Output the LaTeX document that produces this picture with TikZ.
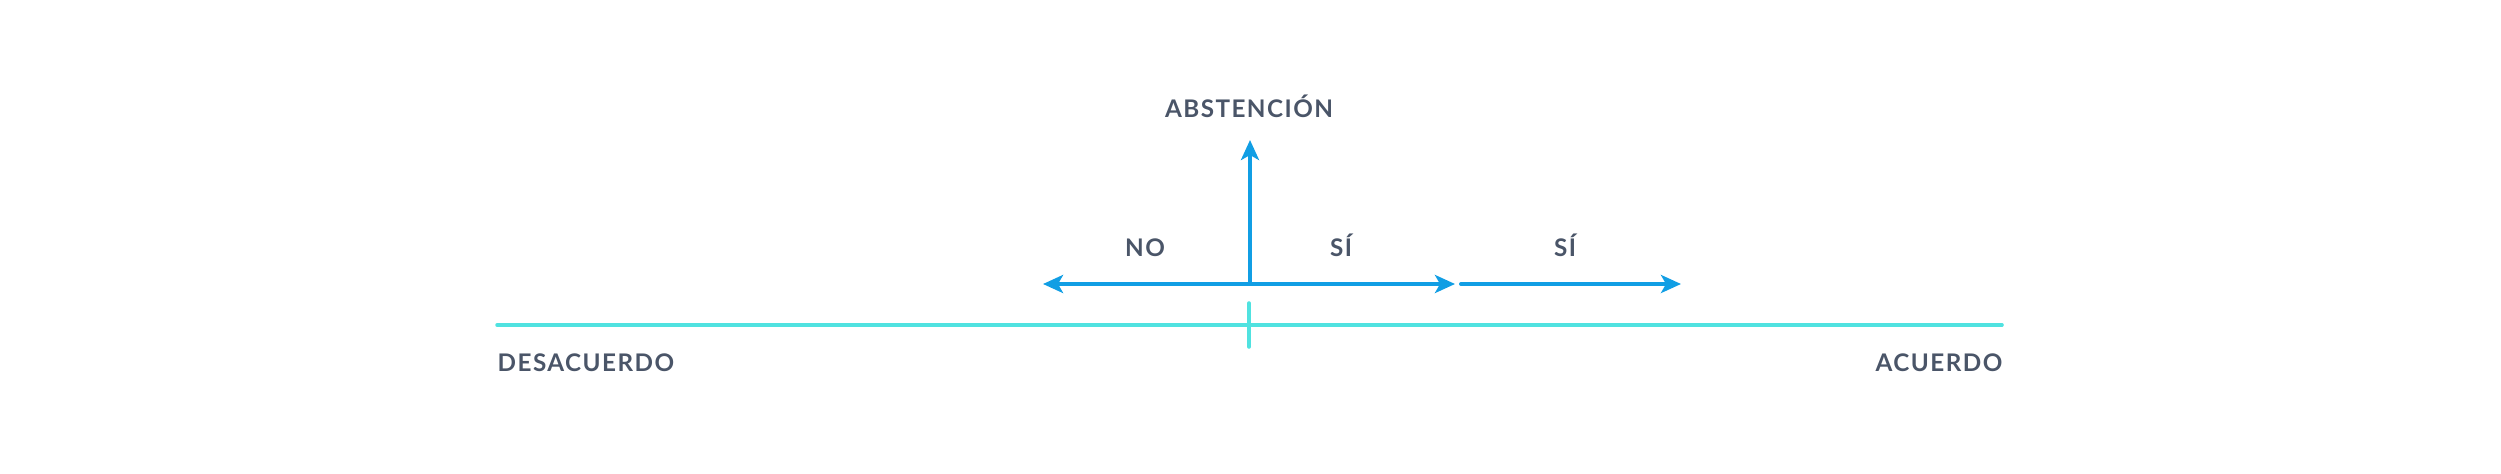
\documentclass[tikz,border=0pt]{standalone}
\usepackage{fontspec}
\setmainfont{Lato}
\newfontfamily\labelfont{Lato}[LetterSpace=6]
\usetikzlibrary{arrows.meta}

\definecolor{textgray}{RGB}{74,85,104}
\definecolor{voteblue}{RGB}{17,158,228}
\definecolor{scaleteal}{RGB}{80,226,224}

\tikzset{
    lbl/.style={inner sep=0pt, text=textgray, font=\labelfont\bfseries\fontsize{6.9}{8}\selectfont},
    votearrow/.style={voteblue, line width=1.15pt, -{Stealth[length=2mm, width=1.8mm, inset=0.5mm]}},
    scaleline/.style={scaleteal, line width=1pt, line cap=round}
}

\begin{document}
\begin{tikzpicture}[x=0.1mm, y=-0.1mm]
    \useasboundingbox (0,0) rectangle (2501,473);

    % Named points (pixel grid)
    \coordinate (c) at (1250,284);
    \coordinate (up) at (1250,140);
    \coordinate (noend) at (1043,284);
    \coordinate (siend) at (1455,284);
    \coordinate (sistart) at (1461,284);
    \coordinate (sitwoend) at (1681,284);
    \coordinate (left) at (497,325);
    \coordinate (right) at (2002,325);
    \coordinate (ticktop) at (1249,303);
    \coordinate (tickbot) at (1249,347);

    % Labels
    \node[lbl, anchor=base] (abst) at (1249,117) {ABSTENCIÓN};
    \node[lbl, anchor=base] (no) at (1145,256) {NO};
    \node[lbl, anchor=base] (si) at (1341,256) {SÍ};
    \node[lbl, anchor=base] (sitwo) at (1565,256) {SÍ};
    \node[lbl, anchor=base west] (desac) at (497,371) {DESACUERDO};
    \node[lbl, anchor=base east] (acuerdo) at (2003,371) {ACUERDO};

    % Agreement scale with centre tick
    \draw[scaleline] (left) -- (right);
    \draw[scaleline, line width=1pt] (ticktop) -- (tickbot);

    % Vote arrows
    \draw[votearrow] (c) -- (up);
    \draw[votearrow] (c) -- (noend);
    \draw[votearrow] (c) -- (siend);
    \draw[votearrow, line cap=round] (sistart) -- (sitwoend);

\end{tikzpicture}
\end{document}
